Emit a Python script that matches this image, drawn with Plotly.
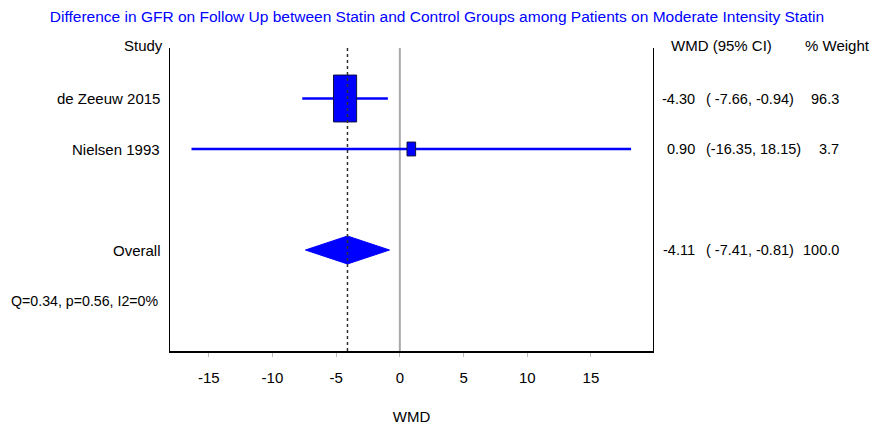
import plotly.graph_objects as go
import math

# ---------------- data ----------------
studies = ["de Zeeuw 2015", "Nielsen 1993"]
wmd = [-4.30, 0.90]
ci_low = [-7.66, -16.35]
ci_high = [-0.94, 18.15]
weights = [96.3, 3.7]

overall_label = "Overall"
overall_wmd = -4.11
overall_low = -7.41
overall_high = -0.81
overall_weight = 100.0

het_text = "Q=0.34, p=0.56, I2=0%"
title_text = "Difference in GFR on Follow Up between Statin and Control Groups among Patients on Moderate Intensity Statin"
x_ticks = [-15, -10, -5, 0, 5, 10, 15]
x_title = "WMD"
col_headers = ["Study", "WMD (95% CI)", "% Weight"]

# ---------------- layout constants ----------------
W, H = 874, 430
PL, PR, PT, PB = 170, 653, 48, 351          # plot area in px
XR = [-18.04, 19.87]
FONT = "Liberation Sans, Arial, Helvetica, sans-serif"
FS = 15
FS_R = 14.5
BLUE = "#0000FF"

rows = list(range(1, len(studies) + 1))      # study rows
overall_row = len(studies) + 2
het_row = overall_row + 1
n_rows = het_row + 1


def px(xpix):
    return (xpix - PL) / (PR - PL)


def py(ypix):
    return (PB - ypix) / (PB - PT)


fig = go.Figure()

# CI lines
for r, lo, hi in zip(rows, ci_low, ci_high):
    fig.add_trace(go.Scatter(x=[lo, hi], y=[r, r], mode="lines",
                             line=dict(color=BLUE, width=2.5),
                             hoverinfo="skip", showlegend=False))

# weight boxes
for r, est, w in zip(rows, wmd, weights):
    hw = 0.2 + 0.072 * math.sqrt(w)
    hh = 0.058 + 0.0414 * math.sqrt(w)
    fig.add_trace(go.Scatter(x=[est - hw, est + hw, est + hw, est - hw, est - hw],
                             y=[r - hh, r - hh, r + hh, r + hh, r - hh],
                             mode="lines", fill="toself", fillcolor=BLUE,
                             line=dict(color="#101040", width=1),
                             hoverinfo="skip", showlegend=False))

# overall diamond
dh = 0.277
fig.add_trace(go.Scatter(x=[overall_low, overall_wmd, overall_high, overall_wmd, overall_low],
                         y=[overall_row, overall_row - dh, overall_row, overall_row + dh, overall_row],
                         mode="lines", fill="toself", fillcolor=BLUE,
                         line=dict(color=BLUE, width=1),
                         hoverinfo="skip", showlegend=False))

# zero line (below) and overall dotted line (above)
fig.add_shape(type="line", x0=0, x1=0, y0=0, y1=n_rows, xref="x", yref="y",
              line=dict(color="#A8A8A8", width=2), layer="below")
fig.add_shape(type="line", x0=overall_wmd, x1=overall_wmd, y0=0, y1=n_rows,
              xref="x", yref="y", line=dict(color="#303030", width=1.5, dash="dot"),
              layer="above")

ann = []
# headers
ann.append(dict(x=0, y=py(45), xref="paper", yref="paper", text=col_headers[0],
                xanchor="right", yanchor="middle", xshift=-5, showarrow=False))
ann.append(dict(x=px(721), y=py(45), xref="paper", yref="paper", text=col_headers[1],
                xanchor="center", yanchor="middle", showarrow=False))
ann.append(dict(x=px(872), y=py(45), xref="paper", yref="paper", text=col_headers[2],
                xanchor="right", yanchor="middle", showarrow=False))

# left labels
for r, s in zip(rows, studies):
    ann.append(dict(x=0, y=r, xref="paper", yref="y", text=s,
                    xanchor="right", yanchor="middle", xshift=-8, showarrow=False))
ann.append(dict(x=0, y=overall_row, xref="paper", yref="y", text=overall_label,
                xanchor="right", yanchor="middle", xshift=-7, showarrow=False))
ann.append(dict(x=0, y=het_row, xref="paper", yref="y", text=het_text,
                xanchor="right", yanchor="middle", xshift=-10, showarrow=False,
                font=dict(size=14.2)))

# right columns
est_all = wmd + [overall_wmd]
lo_all = ci_low + [overall_low]
hi_all = ci_high + [overall_high]
w_all = weights + [overall_weight]
r_all = rows + [overall_row]
for r, e, lo, hi, w in zip(r_all, est_all, lo_all, hi_all, w_all):
    ann.append(dict(x=px(697), y=r, xref="paper", yref="y", text=f"{e:.2f}",
                    xanchor="right", yanchor="middle", showarrow=False,
                    font=dict(size=FS_R)))
    lo_s = f"{lo:.2f}"
    if len(lo_s) < 6:
        lo_s = " " + lo_s
    ann.append(dict(x=px(704), y=r, xref="paper", yref="y", text=f"({lo_s}, {hi:.2f})",
                    xanchor="left", yanchor="middle", showarrow=False,
                    font=dict(size=FS_R)))
    ann.append(dict(x=px(841), y=r, xref="paper", yref="y", text=f"{w:.1f}",
                    xanchor="right", yanchor="middle", showarrow=False,
                    font=dict(size=FS_R)))

fig.update_layout(
    width=W, height=H,
    margin=dict(l=PL, r=W - PR, t=PT, b=H - PB, pad=0),
    paper_bgcolor="white", plot_bgcolor="white",
    font=dict(family=FONT, size=FS, color="black"),
    title=dict(text=title_text, x=0.5, xref="container", xanchor="center",
               y=1 - 17 / H, yref="container", yanchor="middle",
               font=dict(family=FONT, size=15.5, color=BLUE)),
    annotations=ann,
    showlegend=False,
)

fig.update_xaxes(range=XR, tickvals=x_ticks, ticktext=[str(t) for t in x_ticks],
                 ticks="outside", ticklen=4, tickwidth=1, tickcolor="#BBBBBB",
                 ticklabelstandoff=8, automargin=False,
                 showline=True, linewidth=2, linecolor="black", mirror=False,
                 showgrid=False, zeroline=False,
                 tickfont=dict(family=FONT, size=FS, color="black"),
                 title=dict(text=x_title, standoff=26,
                            font=dict(family=FONT, size=FS, color="black")))
fig.update_yaxes(range=[n_rows, 0], showline=True, linewidth=1, linecolor="black",
                 mirror=True, showticklabels=False, ticks="", showgrid=False,
                 zeroline=False, automargin=False)

fig.write_html("out.html", config={"displayModeBar": False},
               post_script="document.body.style.margin='0px';")
